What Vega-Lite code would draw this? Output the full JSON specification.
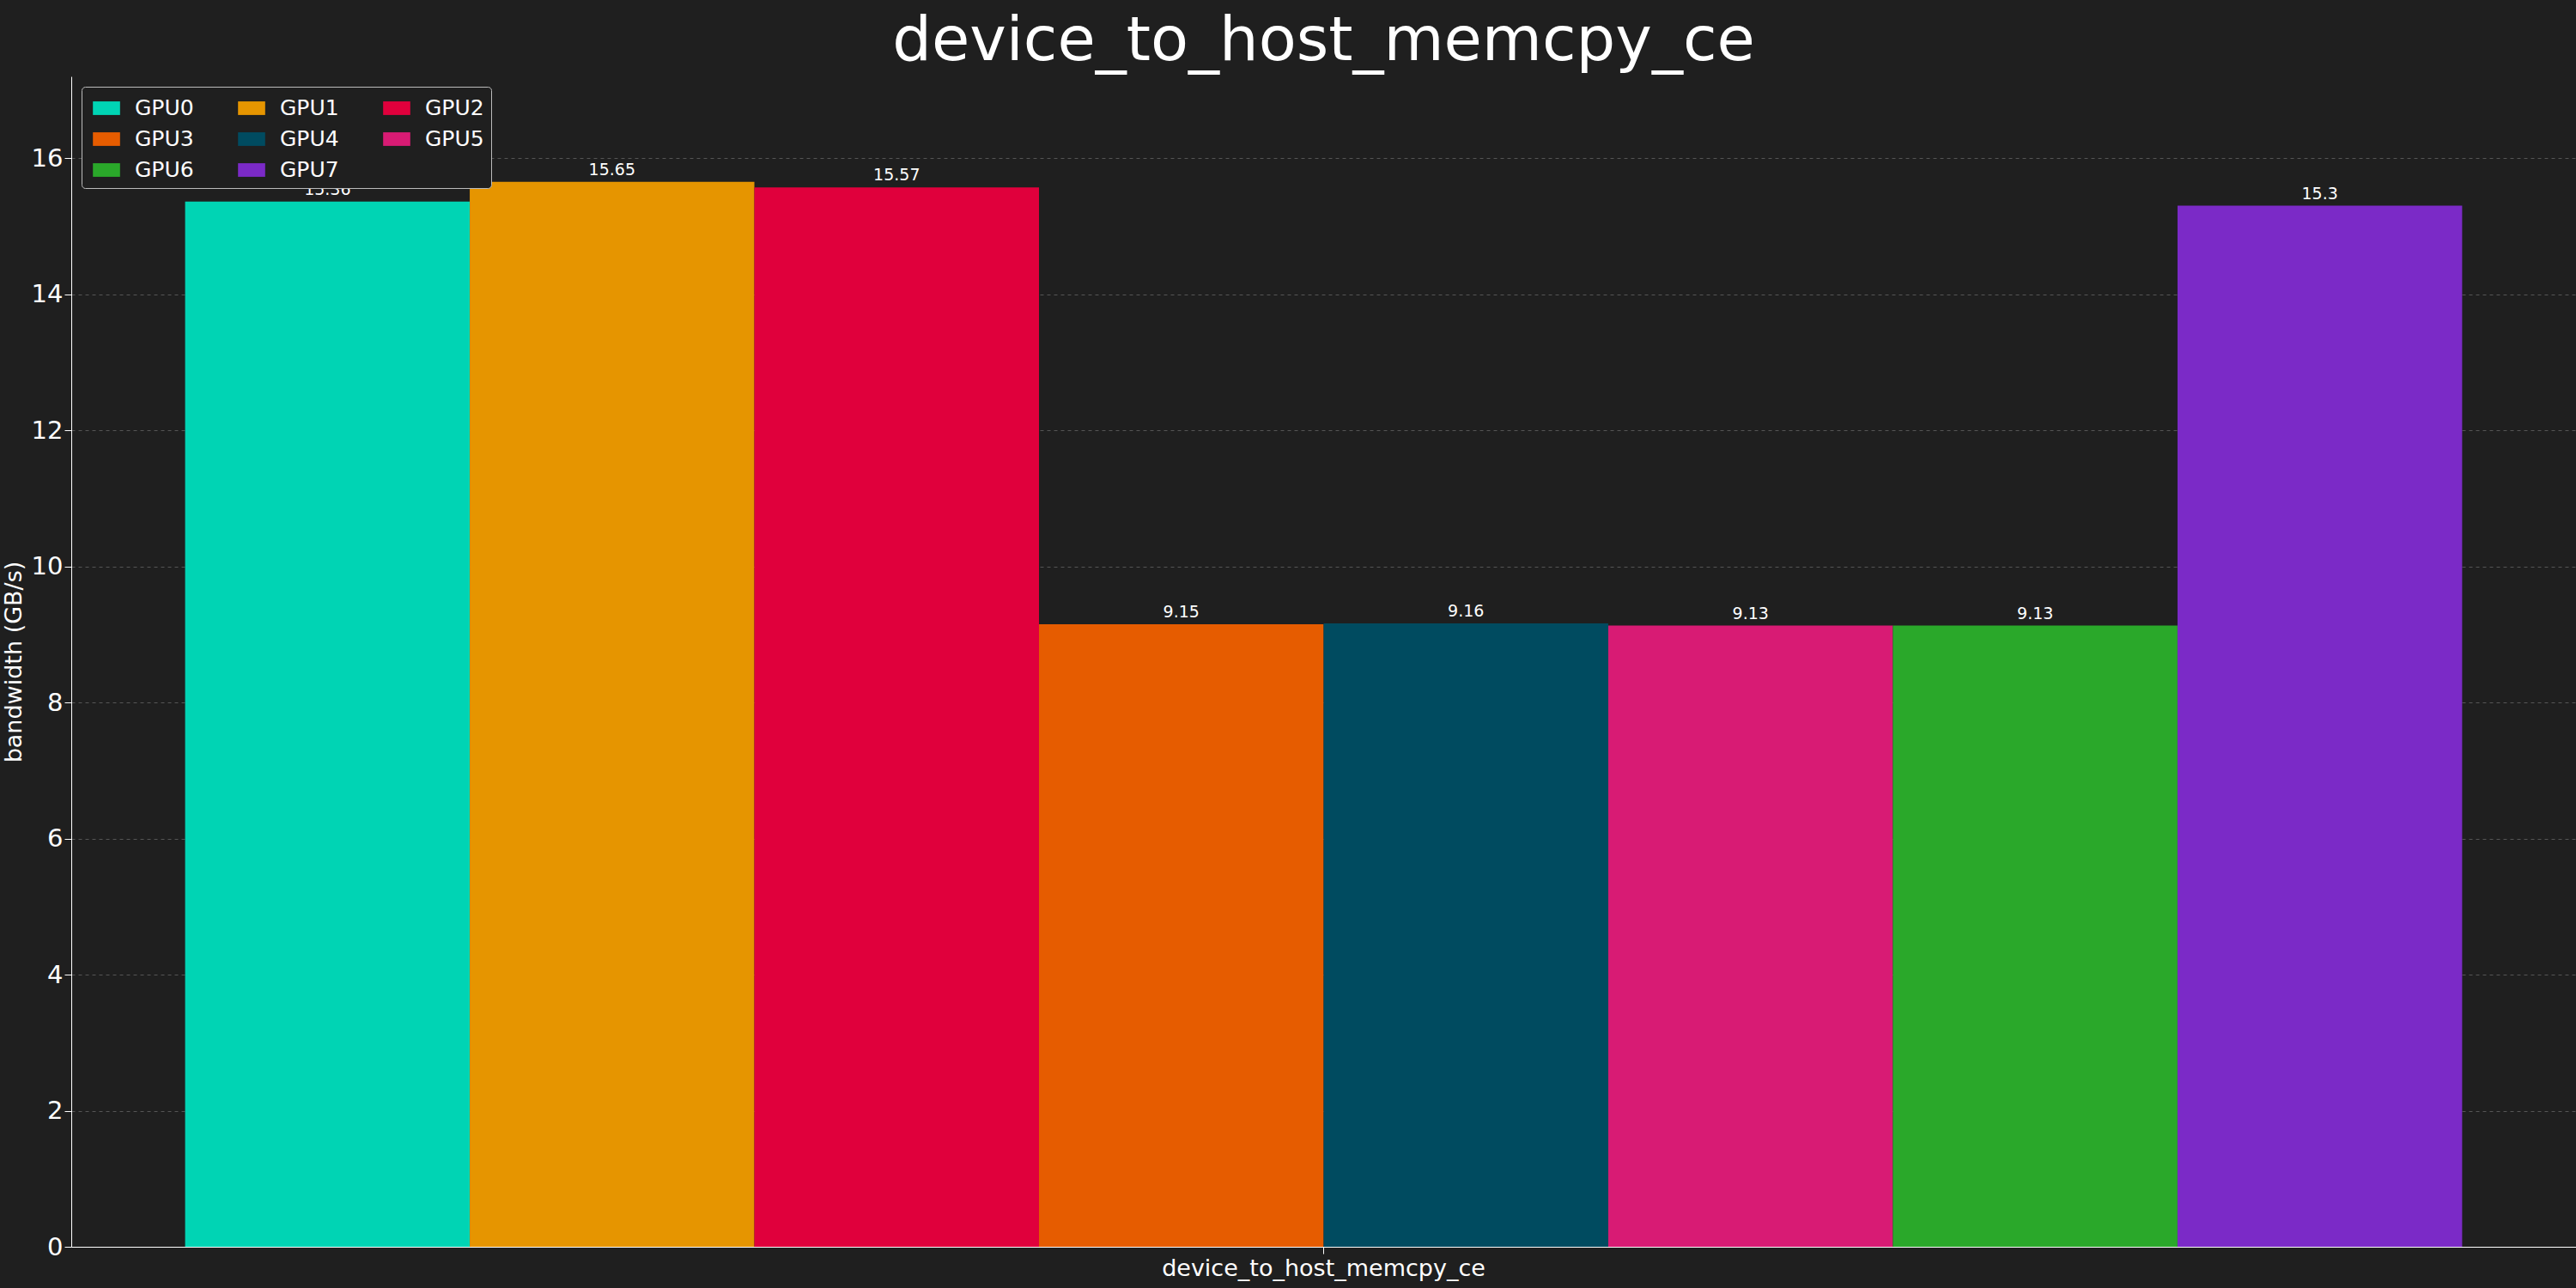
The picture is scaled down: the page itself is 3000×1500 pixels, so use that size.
{
  "$schema": "https://vega.github.io/schema/vega-lite/v6.json",
  "autosize": {"type": "fit", "contains": "padding"},
  "width": 3000,
  "height": 1500,
  "background": "#1f1f1f",
  "padding": {"left": 2, "right": 0, "top": 12, "bottom": 10},
  "title": {"text": "device_to_host_memcpy_ce", "fontSize": 72, "font": "DejaVu Sans", "fontWeight": "normal", "color": "#ffffff", "offset": 4},
  "config": {
    "view": {"stroke": null},
    "font": "DejaVu Sans",
    "axis": {"labelColor": "#ffffff", "titleColor": "#ffffff", "domainColor": "#ffffff", "tickColor": "#ffffff", "labelFont": "DejaVu Sans", "titleFont": "DejaVu Sans", "titleFontWeight": "normal"}
  },
  "data": {
    "values": [
      {"test": "device_to_host_memcpy_ce", "gpu": "GPU0", "bw": 15.36},
      {"test": "device_to_host_memcpy_ce", "gpu": "GPU1", "bw": 15.65},
      {"test": "device_to_host_memcpy_ce", "gpu": "GPU2", "bw": 15.57},
      {"test": "device_to_host_memcpy_ce", "gpu": "GPU3", "bw": 9.15},
      {"test": "device_to_host_memcpy_ce", "gpu": "GPU4", "bw": 9.16},
      {"test": "device_to_host_memcpy_ce", "gpu": "GPU5", "bw": 9.13},
      {"test": "device_to_host_memcpy_ce", "gpu": "GPU6", "bw": 9.13},
      {"test": "device_to_host_memcpy_ce", "gpu": "GPU7", "bw": 15.3}
    ]
  },
  "encoding": {
    "x": {"field": "test", "type": "nominal", "title": null,
      "scale": {"paddingInner": 0, "paddingOuter": 0.05},
      "axis": {"labelAngle": 0, "labelFontSize": 27, "tickSize": 8, "labelPadding": 4, "labelLimit": 0}},
    "xOffset": {"field": "gpu", "type": "nominal", "sort": ["GPU0","GPU1","GPU2","GPU3","GPU4","GPU5","GPU6","GPU7"], "scale": {"paddingInner": 0}},
    "y": {"field": "bw", "type": "quantitative", "title": "bandwidth (GB/s)",
      "scale": {"domain": [0, 17.2], "nice": false},
      "axis": {"values": [0, 2, 4, 6, 8, 10, 12, 14, 16], "labelFontSize": 29, "titleFontSize": 27, "tickSize": 8, "gridColor": "#555555", "gridDash": [4, 4], "gridWidth": 1, "titlePadding": 6}}
  },
  "layer": [
    {
      "mark": {"type": "bar"},
      "encoding": {
        "color": {"field": "gpu", "type": "nominal",
          "scale": {"domain": ["GPU0","GPU3","GPU6","GPU1","GPU4","GPU7","GPU2","GPU5"],
            "range": ["#00d4b4","#e65c00","#2aa82a","#e69500","#004b60","#7b2ac7","#e0003c","#d81b74"]},
          "legend": {"title": null, "orient": "top-left", "columns": 3, "columnPadding": 46, "rowPadding": 6,
            "symbolType": "M-1,-0.5H1V0.5H-1Z", "symbolSize": 1000, "symbolOpacity": 1, "symbolOffset": 4,
            "labelFontSize": 25, "labelOffset": 16, "labelColor": "#ffffff", "strokeColor": "#bbbbbb", "fillColor": "#1f1f1f",
            "padding": 8, "offset": 12, "cornerRadius": 4}}
      }
    },
    {
      "mark": {"type": "text", "dy": -14, "fontSize": 19, "color": "#ffffff"},
      "encoding": {"text": {"field": "bw", "type": "quantitative"}}
    }
  ]
}
